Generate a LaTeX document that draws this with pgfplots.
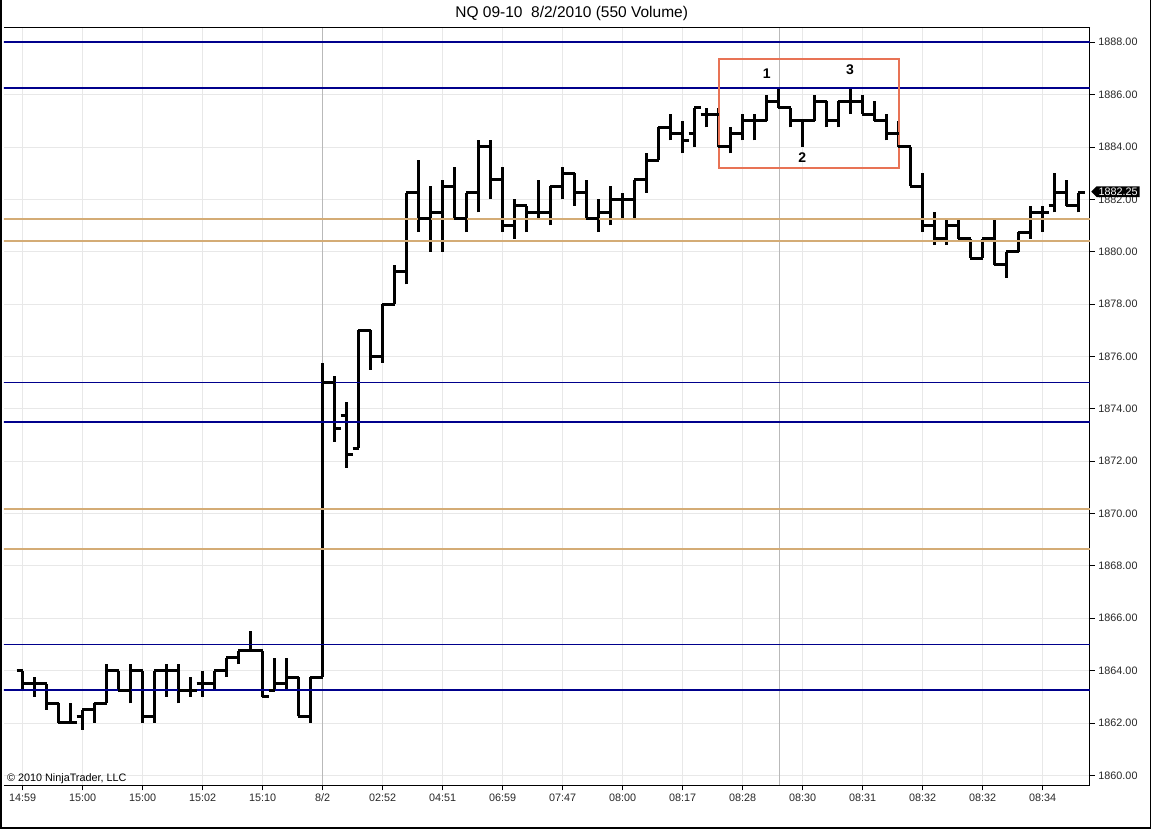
\documentclass[border=0pt]{standalone}
\usepackage{fontspec}
\setmainfont{Liberation Sans}
\usepackage{pgfplots}
\pgfplotsset{compat=1.18}
\usepackage{pgfplotstable}
\usetikzlibrary{shapes.symbols}
\definecolor{navyline}{RGB}{0,0,140}
\definecolor{tanline}{RGB}{212,172,118}
\definecolor{boxline}{RGB}{232,115,85}
\definecolor{gridc}{RGB}{232,232,232}
\definecolor{sess}{RGB}{185,185,185}
\pgfdeclareplotmark{otick}{\pgfpathmoveto{\pgfqpoint{-6pt}{0pt}}\pgfpathlineto{\pgfqpoint{0.5pt}{0pt}}\pgfusepathqstroke}
\pgfdeclareplotmark{ctick}{\pgfpathmoveto{\pgfqpoint{-0.5pt}{0pt}}\pgfpathlineto{\pgfqpoint{6pt}{0pt}}\pgfusepathqstroke}
\pgfplotstableread{
i o h l c
0 1864 1864 1863.25 1863.5
1 1863.5 1863.75 1863 1863.5
2 1863.5 1863.5 1862.5 1862.75
3 1862.75 1862.75 1862 1862
4 1862 1862.75 1862 1862
5 1862.25 1862.5 1861.75 1862.5
6 1862.5 1862.75 1862 1862.75
7 1862.75 1864.25 1862.75 1864
8 1864 1864 1863.25 1863.25
9 1863.25 1864.25 1862.75 1864
10 1864 1864 1862 1862.25
11 1862.25 1864 1862 1864
12 1864 1864.25 1863 1864
13 1864 1864.25 1862.75 1863.25
14 1863.25 1863.75 1863 1863.25
15 1863.5 1864 1863 1863.5
16 1863.5 1864 1863.25 1864
17 1864 1864.5 1863.75 1864.5
18 1864.5 1864.75 1864.25 1864.75
19 1864.75 1865.5 1864.75 1864.75
20 1864.75 1864.75 1863 1863
21 1863.25 1864.5 1863.25 1863.5
22 1863.5 1864.5 1863.25 1863.75
23 1863.75 1863.75 1862.25 1862.25
24 1862.25 1863.75 1862 1863.75
25 1863.75 1875.75 1863.75 1875
26 1875 1875.25 1872.75 1873.25
27 1873.75 1874.25 1871.75 1872.25
28 1872.5 1877 1872.5 1877
29 1877 1877 1875.5 1876
30 1876 1878 1875.75 1878
31 1878 1879.5 1878 1879.25
32 1879.25 1882.25 1878.75 1882.25
33 1882.25 1883.5 1880.75 1881.25
34 1881.25 1882.5 1880 1881.5
35 1881.5 1882.75 1880 1882.5
36 1882.5 1883.25 1881.25 1881.25
37 1881.25 1882.25 1880.75 1882.25
38 1882.25 1884.25 1881.5 1884
39 1884 1884.25 1882 1882.75
40 1882.75 1883.25 1880.75 1881
41 1881 1882 1880.5 1881.75
42 1881.75 1881.75 1880.75 1881.5
43 1881.5 1882.75 1881.25 1881.5
44 1881.5 1882.5 1881 1882.5
45 1882.5 1883.25 1882 1883
46 1883 1883 1881.75 1882.25
47 1882.25 1882.75 1881.25 1881.25
48 1881.25 1882 1880.75 1881.5
49 1881.5 1882.5 1881 1882
50 1882 1882.25 1881.25 1882
51 1882 1882.75 1881.25 1882.75
52 1882.75 1883.75 1882.25 1883.5
53 1883.5 1884.75 1883.5 1884.75
54 1884.75 1885.25 1884.25 1884.5
55 1884.5 1885 1883.75 1884.25
56 1884.5 1885.5 1884 1885.5
57 1885.25 1885.5 1884.75 1885.25
58 1885.25 1885.5 1884 1884
59 1884 1884.75 1883.75 1884.5
60 1884.5 1885.25 1884.25 1885
61 1885 1885.25 1884.25 1885
62 1885 1886 1885 1885.75
63 1885.75 1886.25 1885.5 1885.5
64 1885.5 1885.5 1884.75 1885
65 1885 1885 1884 1885
66 1885 1886 1885 1885.75
67 1885.75 1885.75 1884.75 1885
68 1885 1885.75 1884.75 1885.75
69 1885.75 1886.25 1885.25 1885.75
70 1885.75 1886 1885.25 1885.25
71 1885.25 1885.75 1885 1885
72 1885 1885.25 1884.25 1884.5
73 1884.5 1885 1884 1884
74 1884 1884 1882.5 1882.5
75 1882.5 1883 1880.75 1881
76 1881 1881.5 1880.25 1880.5
77 1880.5 1881.25 1880.25 1881
78 1881 1881.25 1880.5 1880.5
79 1880.5 1880.5 1879.75 1879.75
80 1879.75 1880.5 1879.75 1880.5
81 1880.5 1881.25 1879.5 1879.5
82 1879.5 1880 1879 1880
83 1880 1880.75 1880 1880.75
84 1880.75 1881.75 1880.5 1881.5
85 1881.5 1881.75 1880.75 1881.5
86 1881.75 1883 1881.5 1882.25
87 1882.25 1882.75 1881.75 1881.75
88 1881.75 1882.25 1881.5 1882.25
}\ohlc
\begin{document}
\begin{tikzpicture}
\useasboundingbox (0,0) rectangle (1152pt,829pt);
\begin{axis}[
  scale only axis, width=1086pt, height=758pt,
  at={(4pt,43.7pt)}, anchor=south west,
  xmin=-1.558, xmax=88.94, ymin=1859.62, ymax=1888.57,
  axis x line*=bottom, axis y line*=right,
  axis line style={black, line width=1pt, -},
  tick align=outside, major tick length=5pt,
  tick style={black, line width=0.8pt},
  xtick={0,5,...,85},
  xticklabels={14:59,15:00,15:00,15:02,15:10,8/2,02:52,04:51,06:59,07:47,08:00,08:17,08:28,08:30,08:31,08:32,08:32,08:34},
  ytick={1860,1862,...,1888},
  yticklabel style={/pgf/number format/.cd, fixed, fixed zerofill, precision=2, 1000 sep={}, assume math mode=true},
  ticklabel style={font=\fontsize{10.8}{12}\selectfont, text=black!85},
  grid=major, major grid style={gridc, line width=0.8pt},
  clip=true,
]
\addplot[sess, line width=1pt, forget plot] coordinates {(25,1859.62) (25,1888.57)};
\addplot[sess, line width=1pt, forget plot] coordinates {(63.05,1859.62) (63.05,1888.57)};
% high-low
\addplot[draw=none, no marks,
  error bars/.cd, y dir=plus, y explicit, error mark=none,
  error bar style={draw=black, line width=3pt, line cap=butt}]
  table[x=i, y=l, y error expr=\thisrow{h}-\thisrow{l}] {\ohlc};
% open and close ticks
\addplot[only marks, mark=otick, mark options={line width=3pt, black}] table[x=i, y=o] {\ohlc};
\addplot[only marks, mark=ctick, mark options={line width=3pt, black}] table[x=i, y=c] {\ohlc};
% level lines
\addplot[navyline, line width=1.6pt] coordinates {(-2,1888) (90,1888)};
\addplot[navyline, line width=1.6pt] coordinates {(-2,1886.25) (90,1886.25)};
\addplot[navyline, line width=1.6pt] coordinates {(-2,1875) (90,1875)};
\addplot[navyline, line width=1.6pt] coordinates {(-2,1873.5) (90,1873.5)};
\addplot[navyline, line width=1.6pt] coordinates {(-2,1865) (90,1865)};
\addplot[navyline, line width=1.6pt] coordinates {(-2,1863.25) (90,1863.25)};
\addplot[tanline, line width=1.6pt] coordinates {(-2,1881.25) (90,1881.25)};
\addplot[tanline, line width=1.6pt] coordinates {(-2,1880.4) (90,1880.4)};
\addplot[tanline, line width=1.6pt] coordinates {(-2,1870.17) (90,1870.17)};
\addplot[tanline, line width=1.6pt] coordinates {(-2,1868.65) (90,1868.65)};
\draw[boxline, line width=1.6pt] (axis cs:58.05,1883.19) rectangle (axis cs:73.05,1887.35);
\node[font=\fontsize{14}{15}\bfseries] at (axis cs:62.0,1886.79) {1};
\node[font=\fontsize{14}{15}\bfseries] at (axis cs:64.97,1883.6) {2};
\node[font=\fontsize{14}{15}\bfseries] at (axis cs:68.94,1886.94) {3};
\end{axis}
\draw[black, line width=1pt] (1090pt,801.7pt) -- (4pt,801.7pt);
\node[font=\fontsize{15.5}{17}\selectfont] at (571.7pt,815pt) {NQ 09-10\ \ 8/2/2010 (550 Volume)};
\node[anchor=west, font=\fontsize{10.8}{12}\selectfont, inner sep=0pt] at (7pt,50pt) {© 2010 NinjaTrader, LLC};
\node[signal, signal to=west, fill=black, text=white, anchor=west, inner xsep=2pt, inner ysep=1.5pt,
  font=\fontsize{10.8}{12}\selectfont] at (1091pt,637.3pt) {1882.25};
\draw[black, line width=1.5pt] (0.75pt,829pt) -- (0.75pt,0.75pt) -- (1150.7pt,0.75pt) -- (1150.7pt,829pt);
\end{tikzpicture}
\end{document}
